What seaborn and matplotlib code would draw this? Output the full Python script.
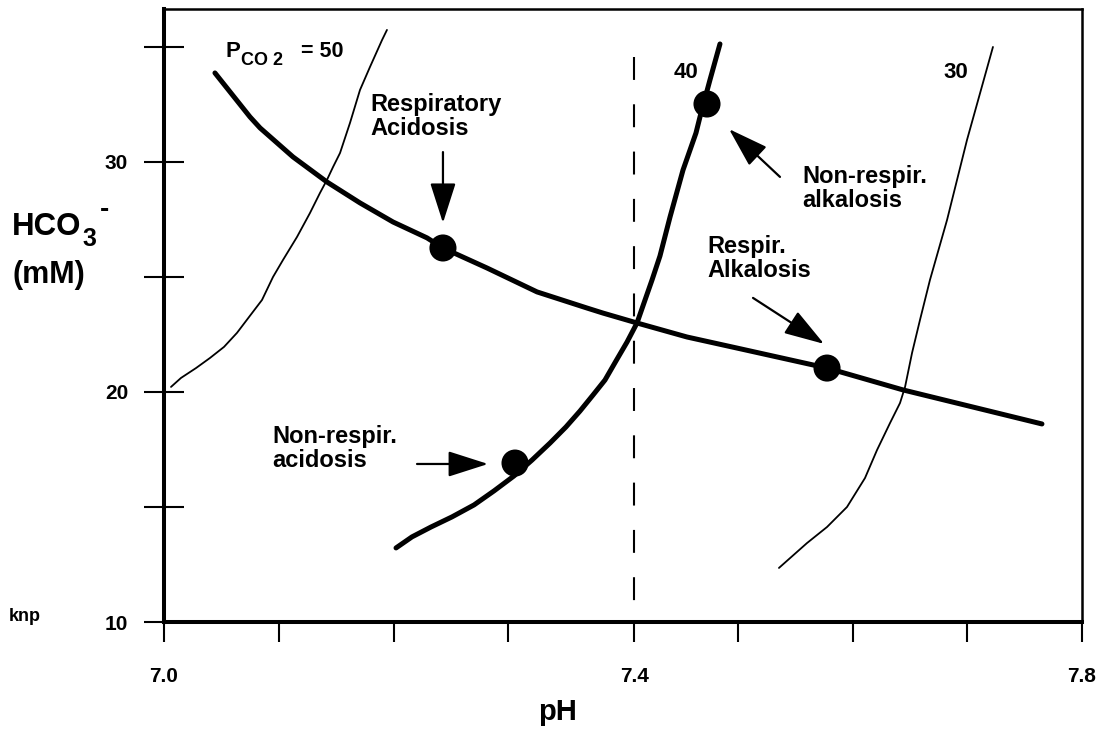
import matplotlib
matplotlib.use("Agg")
import matplotlib.pyplot as plt
import seaborn as sns
import pandas as pd

# ---------------- data ----------------
# buffer line (thick, decreasing)
buffer_ph = [7.0444, 7.0749, 7.0837, 7.1124, 7.1420, 7.1708, 7.1996, 7.2292, 7.2431,
             7.2815, 7.3251, 7.3686, 7.3826, 7.4122, 7.4558, 7.4993, 7.5778, 7.6440, 7.7651]
buffer_hco3 = [33.87, 31.96, 31.48, 30.22, 29.13, 28.22, 27.39, 26.70, 26.26,
               25.39, 24.35, 23.65, 23.43, 23.00, 22.39, 21.91, 21.04, 20.09, 18.61]

# PCO2 = 40 isobar (thick)
pco2_40_ph = [7.2022, 7.2161, 7.2327, 7.2510, 7.2702, 7.2876, 7.3050, 7.3207, 7.3364,
              7.3503, 7.3625, 7.3739, 7.3843, 7.3939, 7.4035, 7.4122, 7.4192, 7.4253,
              7.4322, 7.4410, 7.4523, 7.4636, 7.4671, 7.4758, 7.4845]
pco2_40_hco3 = [13.22, 13.70, 14.13, 14.57, 15.09, 15.70, 16.35, 17.04, 17.78,
                18.48, 19.17, 19.87, 20.52, 21.35, 22.17, 23.00, 24.00, 24.87,
                25.91, 27.61, 29.65, 31.26, 31.96, 33.57, 35.13]

# PCO2 = 50 isobar (thin)
pco2_50_ph = [7.0061, 7.0148, 7.0279, 7.0401, 7.0523, 7.0636, 7.0741, 7.0854, 7.0950,
              7.1037, 7.1159, 7.1272, 7.1359, 7.1420, 7.1473, 7.1534, 7.1621, 7.1708,
              7.1795, 7.1900, 7.1943]
pco2_50_hco3 = [20.22, 20.61, 21.04, 21.48, 21.96, 22.57, 23.26, 24.00, 25.00,
                25.74, 26.74, 27.78, 28.65, 29.22, 29.78, 30.39, 31.70, 33.13,
                34.13, 35.30, 35.74]

# PCO2 = 30 isobar (thin)
pco2_30_ph = [7.5359, 7.5603, 7.5778, 7.5952, 7.6109, 7.6214, 7.6327, 7.6414, 7.6458,
              7.6519, 7.6588, 7.6675, 7.6824, 7.6998, 7.7224]
pco2_30_hco3 = [12.35, 13.43, 14.13, 15.00, 16.26, 17.48, 18.65, 19.52, 20.22,
                21.70, 23.13, 24.87, 27.48, 30.96, 35.00]

# disturbance points
point_names = ["Respiratory\nAcidosis", "Respir.\nAlkalosis",
               "Non-respir.\nacidosis", "Non-respir.\nalkalosis"]
point_ph = [7.2431, 7.5778, 7.3059, 7.4732]
point_hco3 = [26.26, 21.04, 16.91, 32.52]

# arrows: tail -> tip
arrow_tail_ph = [7.2431, 7.5133, 7.2205, 7.5368]
arrow_tail_hco3 = [30.43, 24.09, 16.87, 29.35]
arrow_tip_ph = [7.2431, 7.5752, 7.2824, 7.4924]
arrow_tip_hco3 = [27.35, 22.09, 16.87, 31.43]

# label anchors (top-left of each two-line label)
label_ph = [7.1795, 7.4732, 7.0941, 7.5560]
label_hco3 = [33.00, 26.83, 18.57, 29.87]

# reference line at normal pH
normal_ph = 7.41
normal_line_hco3 = [34.57, 10.0]

x_ticks = [7.0, 7.1, 7.2, 7.3, 7.41, 7.5, 7.6, 7.7, 7.8]
x_tick_labels = ["7.0", "", "", "", "7.4", "", "", "", "7.8"]
y_ticks = [10, 15, 20, 25, 30, 35]
y_tick_labels = ["10", "", "20", "", "30", ""]

# ---------------- style ----------------
sns.set_style("white")
plt.rcParams["font.family"] = ["Liberation Sans", "DejaVu Sans"]
plt.rcParams["font.weight"] = "bold"
for key in ["text.color", "axes.labelcolor", "xtick.color", "ytick.color",
            "axes.edgecolor"]:
    plt.rcParams[key] = "black"

W, H = 1096, 729
fig = plt.figure(figsize=(W / 100, H / 100), dpi=100)
ax = fig.add_axes([164 / W, 1 - 622 / H, (1082 - 164) / W, (622 - 9) / H])

# curves
sns.lineplot(x=pco2_50_ph, y=pco2_50_hco3, sort=False, estimator=None, color="black",
             linewidth=1.3, ax=ax)
sns.lineplot(x=pco2_30_ph, y=pco2_30_hco3, sort=False, estimator=None, color="black",
             linewidth=1.3, ax=ax)
sns.lineplot(x=buffer_ph, y=buffer_hco3, sort=False, estimator=None, color="black",
             linewidth=3.6, ax=ax)
sns.lineplot(x=pco2_40_ph, y=pco2_40_hco3, sort=False, estimator=None, color="black",
             linewidth=3.6, ax=ax)

# dashed normal-pH line
ax.plot([normal_ph, normal_ph], normal_line_hco3, color="black", linewidth=1.5,
        dashes=(11, 11.7))

# points
pts = pd.DataFrame({"pH": point_ph, "HCO3": point_hco3})
sns.scatterplot(data=pts, x="pH", y="HCO3", s=380, color="black", edgecolor="none",
                zorder=5, ax=ax)

# arrows and labels
for i in range(len(point_names)):
    ax.annotate("", xy=(arrow_tip_ph[i], arrow_tip_hco3[i]),
                xytext=(arrow_tail_ph[i], arrow_tail_hco3[i]),
                arrowprops=dict(arrowstyle="-|>,head_length=1.25,head_width=0.4",
                                color="black", lw=1.6, shrinkA=0, shrinkB=0,
                                mutation_scale=20))
    ax.text(label_ph[i], label_hco3[i], point_names[i], fontsize=17, fontweight="bold",
            color="black", ha="left", va="top", linespacing=1.05)

# isobar labels
ax.text(7.4549, 33.87, "40", fontsize=16, fontweight="bold", ha="center", va="center")
ax.text(7.6902, 33.87, "30", fontsize=16, fontweight="bold", ha="center", va="center")
ax.text(7.0540, 34.57, "P", fontsize=16, fontweight="bold", ha="left", va="baseline")
ax.text(7.0675, 34.22, "CO 2", fontsize=13, fontweight="bold", ha="left", va="baseline")
ax.text(7.1195, 34.57, "= 50", fontsize=15.5, fontweight="bold", ha="left", va="baseline")

# axes
ax.set_xlim(7.0, 7.8)
ax.set_ylim(10, 36.65)
ax.set_xticks(x_ticks)
ax.set_xticklabels(x_tick_labels)
ax.set_yticks(y_ticks)
ax.set_yticklabels(y_tick_labels)
ax.set_xlabel("")
ax.set_ylabel("")
ax.tick_params(axis="x", direction="out", length=14.4, width=1.5, pad=18,
               labelsize=15, colors="black", bottom=True)
ax.tick_params(axis="y", direction="inout", length=29.5, width=1.5, pad=11,
               labelsize=15, colors="black", left=True)
for lab in ax.get_xticklabels() + ax.get_yticklabels():
    lab.set_fontweight("bold")

for side, lw in [("left", 2.9), ("bottom", 2.9), ("top", 1.8), ("right", 1.8)]:
    ax.spines[side].set_visible(True)
    ax.spines[side].set_linewidth(lw)
    ax.spines[side].set_color("black")

# axis titles
fig.text(12 / W, 1 - 235 / H, "HCO", fontsize=22.5, fontweight="bold",
         ha="left", va="baseline")
fig.text(82 / W, 1 - 246 / H, "3", fontsize=18, fontweight="bold",
         ha="left", va="baseline")
fig.text(100 / W, 1 - 210 / H, "-", fontsize=20, fontweight="bold",
         ha="left", va="center")
fig.text(12 / W, 1 - 283 / H, "(mM)", fontsize=22, fontweight="bold",
         ha="left", va="baseline")
fig.text(558 / W, 1 - 720 / H, "pH", fontsize=21, fontweight="bold",
         ha="center", va="baseline")
fig.text(9 / W, 1 - 621 / H, "knp", fontsize=13, fontweight="bold",
         ha="left", va="baseline")

fig.savefig("out.png", dpi=100)
